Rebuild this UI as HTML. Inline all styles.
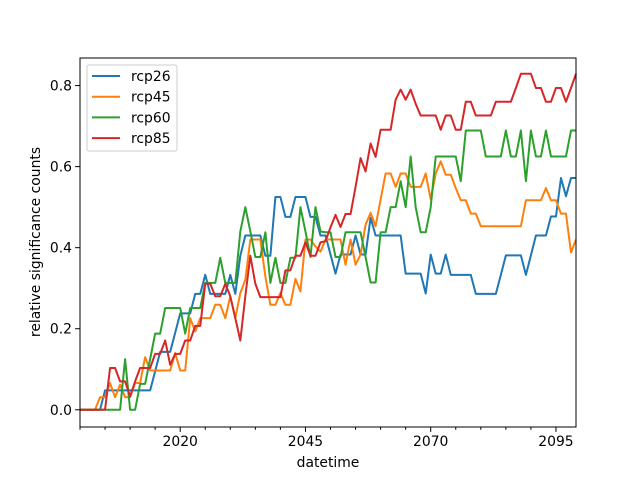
<!DOCTYPE html>
<html><head><meta charset="utf-8"><style>
body{margin:0;background:#fff}
svg{display:block;font-family:"DejaVu Sans","Liberation Sans",sans-serif}
</style></head><body>
<svg id="chart" width="640" height="480" viewBox="0 0 640 480"></svg>
<script>
const startYear = 2000;
const seriesNames = ["rcp26","rcp45","rcp60","rcp85"];
const rcp26 = [0,0,0,0,0,.048,.048,.048,.048,.048,.048,.048,.048,.048,.048,
.095,.143,.143,.143,.19,.238,.238,.238,.286,.286,
.333,.286,.286,.286,.286,.333,.286,.38,.43,.43,
.43,.43,.38,.38,.525,.525,.476,.476,.525,.525,
.525,.476,.476,.43,.43,.383,.336,.383,.383,.383,
.43,.383,.383,.474,.43,.43,.43,.43,.43,.43,
.336,.336,.336,.336,.287,.383,.336,.336,.383,.333,
.333,.333,.333,.333,.286,.286,.286,.286,.286,.333,
.381,.381,.381,.381,.333,.381,.43,.43,.43,.477,
.477,.572,.527,.572,.572];
const rcp45 = [0,0,0,0,.031,.031,.066,.031,.062,.031,
.031,.066,.066,.13,.097,.097,.097,.097,.097,.14,
.097,.097,.226,.193,.226,.226,.226,.259,.259,.226,
.28,.226,.288,.321,.42,.42,.42,.329,.259,.259,
.288,.259,.259,.323,.292,.42,.42,.403,.39,.42,
.42,.42,.42,.358,.42,.358,.383,.457,.486,.453,
.519,.583,.583,.55,.583,.583,.55,.55,.55,.583,
.519,.583,.613,.58,.58,.547,.517,.517,.484,.484,
.453,.453,.453,.453,.453,.453,.453,.453,.453,.517,
.517,.517,.517,.547,.517,.517,.484,.484,.388,.42];
const rcp60 = [0,0,0,0,0,0,0,0,0,.125,
0,0,.064,.064,.125,.188,.188,.251,.251,.251,
.251,.188,.251,.251,.251,.313,.313,.313,.375,.313,
.313,.313,.44,.5,.44,.377,.377,.438,.313,.375,
.313,.313,.375,.375,.5,.44,.377,.5,.44,.438,
.438,.377,.377,.438,.438,.438,.438,.377,.314,.314,
.438,.438,.5,.5,.564,.5,.625,.5,.438,.438,
.5,.625,.625,.625,.625,.625,.564,.689,.689,.689,
.689,.625,.625,.625,.625,.689,.625,.625,.689,.564,
.689,.625,.625,.689,.625,.625,.625,.625,.689,.689];
const rcp85 = [0,0,0,0,0,0,.103,.103,.07,.07,
.033,.07,.103,.103,.103,.138,.138,.171,.111,.138,
.138,.171,.171,.207,.207,.311,.311,.28,.28,.311,
.28,.226,.171,.28,.38,.311,.278,.278,.278,.278,
.278,.344,.344,.38,.38,.413,.38,.38,.413,.416,
.45,.481,.451,.483,.483,.55,.621,.588,.657,.624,
.691,.691,.691,.765,.79,.765,.79,.755,.726,.726,
.726,.726,.691,.726,.726,.691,.691,.76,.76,.726,
.726,.726,.726,.76,.76,.76,.76,.794,.829,.829,
.829,.794,.794,.76,.76,.794,.794,.76,.794,.829];
const xTickYears = [2020,2045,2070,2095];
const yTickValues = [0,0.2,0.4,0.6,0.8];
const yTickLabels = ["0.0","0.2","0.4","0.6","0.8"];

const colors = ["#1f77b4","#ff7f0e","#2ca02c","#d62728"];
const allSeries = [rcp26,rcp45,rcp60,rcp85];
const L=80,R=576,T=58,B=427;
const xMin=2000,xMax=2099,yMin=-0.0425,yMax=0.868;
const FS=13.9;
function xs(y){return L+(y-xMin)/(xMax-xMin)*(R-L);}
function ys(v){return B-(v-yMin)/(yMax-yMin)*(B-T);}
const NS="http://www.w3.org/2000/svg";
const svg=document.getElementById('chart');
function mk(tag,attrs,parent){const e=document.createElementNS(NS,tag);for(const k in attrs)e.setAttribute(k,attrs[k]);(parent||svg).appendChild(e);return e;}

const lines=mk('g',{});


allSeries.forEach((s,i)=>{
  const pts=s.map((v,j)=>xs(startYear+j).toFixed(2)+','+ys(v).toFixed(2)).join(' ');
  const p=mk('polyline',{points:pts,fill:'none',stroke:colors[i],'stroke-width':2,'stroke-linejoin':'round'},lines);
  
  
});

const frame=mk('rect',{x:L,y:T,width:R-L,height:B-T,fill:'none',stroke:'#000','stroke-width':1});



for(let y=2000;y<=2095;y+=5){
  const major=xTickYears.includes(y);
  const t=mk('line',{x1:xs(y),x2:xs(y),y1:B,y2:B+(major?4.9:2.8),stroke:'#000','stroke-width':1});
  
  
}
xTickYears.forEach(y=>{
  const t=mk('text',{x:xs(y),y:446,'text-anchor':'middle','font-size':FS,fill:'#000'});
  t.textContent=String(y);
  
  
});
yTickValues.forEach((v,i)=>{
  const t=mk('line',{x1:L-4.9,x2:L,y1:ys(v),y2:ys(v),stroke:'#000','stroke-width':1});
  
  
  const l=mk('text',{x:L-8,y:ys(v)+5,'text-anchor':'end','font-size':FS,fill:'#000'});
  l.textContent=yTickLabels[i];
  
  
});
const xt=mk('text',{x:(L+R)/2,y:467,'text-anchor':'middle','font-size':FS,fill:'#000'});
xt.textContent='datetime';


const yt=mk('text',{x:0,y:0,transform:'translate(40,242) rotate(-90)','text-anchor':'middle','font-size':FS,fill:'#000'});
yt.textContent='relative significance counts';



const lg=mk('g',{});


mk('rect',{x:87,y:65,width:90,height:86,rx:2,fill:'#fff','fill-opacity':0.8,stroke:'#ccc','stroke-width':1},lg);
seriesNames.forEach((n,i)=>{
  const yy=76+i*20.7;
  const ln=mk('line',{x1:92,x2:120,y1:yy,y2:yy,stroke:colors[i],'stroke-width':2},lg);
  
  
  const tx=mk('text',{x:131,y:yy+5,'font-size':FS,fill:'#000'},lg);
  tx.textContent=n;
  
  
});
</script>
</body></html>
